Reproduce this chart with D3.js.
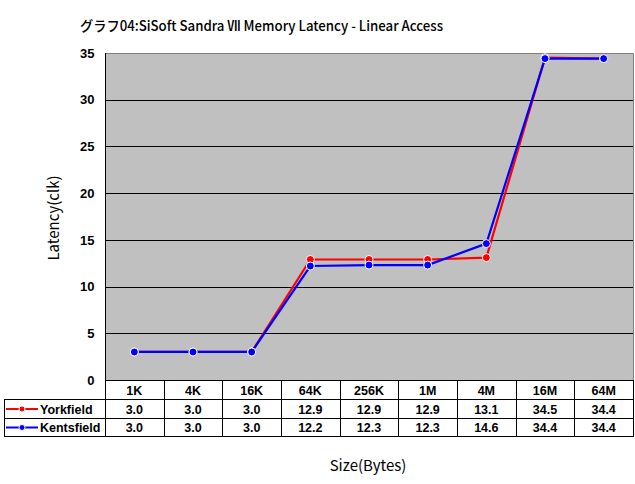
<!DOCTYPE html>
<html><head><meta charset="utf-8">
<script src="https://cdn.jsdelivr.net/npm/d3@7"></script>
<style>
html,body{margin:0;padding:0;background:#fff;}
svg text{font-family:"Liberation Sans",Arial,sans-serif;}
</style></head>
<body>
<svg id="c" width="635" height="484"></svg>
<script>
const categories = ["1K","4K","16K","64K","256K","1M","4M","16M","64M"];
const yorkfield = [3.0,3.0,3.0,12.9,12.9,12.9,13.1,34.5,34.4];
const kentsfield = [3.0,3.0,3.0,12.2,12.3,12.3,14.6,34.4,34.4];
const yTicks = [0,5,10,15,20,25,30,35];
const seriesNames = ["Yorkfield","Kentsfield"];
const seriesColors = ["#ff0000","#0000ff"];

const svg = d3.select("#c");
const L = 105, R = 633, T = 53, B = 380;
const x = d3.scaleBand().domain(categories).range([L, R]).padding(0);
const y = d3.scaleLinear().domain([0,35]).range([B, T]);

// title
svg.append("text").attr("x",80).attr("y",31)
  .style("font-family","'Noto Sans CJK JP',sans-serif").style("font-size","14px").style("font-weight","500")
  .attr("textLength",363).attr("lengthAdjust","spacingAndGlyphs")
  .text("グラフ04:SiSoft Sandra Ⅶ Memory Latency - Linear Access");

// plot area
svg.append("rect").attr("x",L).attr("y",T).attr("width",R-L).attr("height",B-T).attr("fill","#c0c0c0");
svg.append("path").attr("d",`M${L},${T+0.5}H${R+0.5}V${B}`).attr("fill","none").attr("stroke","#808080").attr("stroke-width",1);

// gridlines
svg.append("g").selectAll("line").data(yTicks.filter(d=>d>0&&d<35)).join("line")
  .attr("x1",L).attr("x2",R).attr("y1",d=>Math.round(y(d))+0.5).attr("y2",d=>Math.round(y(d))+0.5)
  .attr("stroke","#000").attr("stroke-width",1);

// y axis
const ya = d3.axisLeft(y).tickValues(yTicks).tickSize(0).tickPadding(11).tickFormat(d3.format("d"));
const gy = svg.append("g").attr("transform",`translate(${L+0.5},0)`).call(ya);
gy.select(".domain").attr("stroke","#000").attr("d",`M0,${T}V${B}`);
gy.selectAll("text").style("font-size","13px").style("font-weight","bold").attr("fill","#000");

// axis titles
svg.append("text").attr("transform","translate(59,218) rotate(-90)").attr("text-anchor","middle")
  .style("font-family","'Noto Sans CJK JP',sans-serif").style("font-size","15px").style("font-weight","400").text("Latency(clk)");
svg.append("text").attr("x",368).attr("y",471).attr("text-anchor","middle")
  .style("font-family","'Noto Sans CJK JP',sans-serif").style("font-size","15px").style("font-weight","400").text("Size(Bytes)");

// lines and markers
const series = [yorkfield, kentsfield];
const line = d3.line().x((d,i)=>x(categories[i])+x.bandwidth()/2).y(d=>y(d));
series.forEach((s,k)=>{
  svg.append("path").datum(s).attr("d",line).attr("fill","none").attr("stroke",seriesColors[k]).attr("stroke-width",2.2);
});
series.forEach((s,k)=>{
  svg.append("g").selectAll("circle").data(s).join("circle")
    .attr("cx",(d,i)=>x(categories[i])+x.bandwidth()/2).attr("cy",d=>y(d)).attr("r",4)
    .attr("fill",seriesColors[k]).attr("stroke","#fff").attr("stroke-width",1);
});

// data table
const rows = [380, 399, 418, 436];
const tg = svg.append("g");
const hl = (x1,x2,yy)=>tg.append("line").attr("x1",x1).attr("x2",x2).attr("y1",yy+0.5).attr("y2",yy+0.5).attr("stroke","#000");
const vl = (xx,y1,y2)=>tg.append("line").attr("x1",xx+0.5).attr("x2",xx+0.5).attr("y1",y1).attr("y2",y2).attr("stroke","#000");
hl(L,R,rows[0]); hl(4,R,rows[1]); hl(4,R,rows[2]); hl(4,R,rows[3]);
vl(4,rows[1],rows[3]+1);
categories.forEach(c=>vl(Math.round(x(c)),rows[0],rows[3]+1));
vl(R,rows[0],rows[3]+1);
tg.selectAll("text.h").data(categories).join("text").attr("class","h")
  .attr("x",d=>x(d)+x.bandwidth()/2).attr("y",(rows[0]+rows[1])/2+5).attr("text-anchor","middle")
  .style("font-size","12.5px").style("font-weight","bold").text(d=>d);
series.forEach((s,k)=>{
  const yy = (rows[k+1]+rows[k+2])/2+5;
  tg.append("g").selectAll("text").data(s).join("text")
    .attr("x",(d,i)=>x(categories[i])+x.bandwidth()/2).attr("y",yy).attr("text-anchor","middle")
    .style("font-size","12.5px").style("font-weight","bold").text(d=>d.toFixed(1));
  const ly = (rows[k+1]+rows[k+2])/2+0.5;
  tg.append("line").attr("x1",6).attr("x2",38).attr("y1",ly).attr("y2",ly).attr("stroke",seriesColors[k]).attr("stroke-width",2);
  tg.append("circle").attr("cx",22).attr("cy",ly).attr("r",3).attr("fill",seriesColors[k]).attr("stroke","#fff").attr("stroke-width",1);
  tg.append("text").attr("x",40).attr("y",yy).style("font-size","12.5px").style("font-weight","bold").text(seriesNames[k]);
});
</script>
</body></html>
